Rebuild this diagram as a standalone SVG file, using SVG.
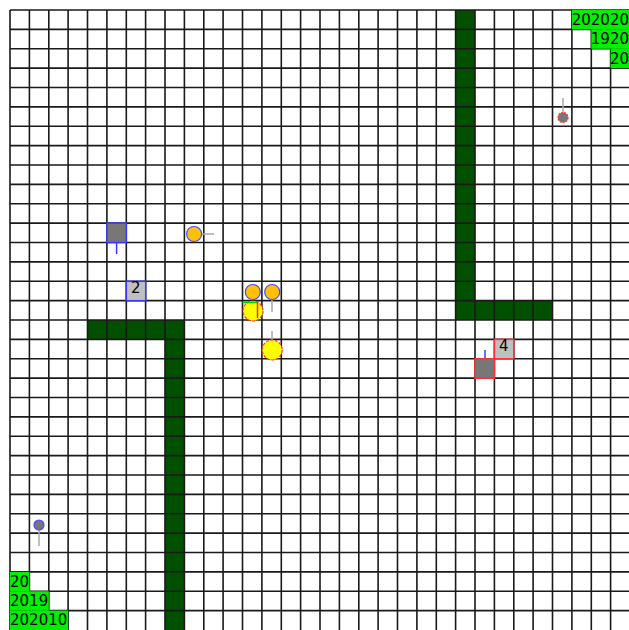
<svg xmlns="http://www.w3.org/2000/svg" width="629" height="630" viewBox="0 0 629 630">
<style>
.wall{fill:#005000}
.grid{fill:none;stroke:#1a1a1a;stroke-width:1.6}
.lab{fill:#00f000}
.t{font-family:"DejaVu Sans",sans-serif;font-size:15px;fill:#000}
.orange{fill:#ffc107;stroke:#4a4aff;stroke-width:1.2}
.gl{stroke:#aaa;stroke-width:1.5}
</style>
<rect width="629" height="630" fill="#fff"/>
<g id="walls">
<rect class="wall" x="455.6" y="10" width="19.4" height="310"/>
<rect class="wall" x="455.6" y="300.6" width="96.9" height="19.4"/>
<rect class="wall" x="87.5" y="320" width="96.9" height="19.4"/>
<rect class="wall" x="165" y="320" width="19.4" height="312"/>
</g>
<path class="grid" d="M10 10V630M29.4 10V630M48.8 10V630M68.1 10V630M87.5 10V630M106.9 10V630M126.3 10V630M145.6 10V630M165 10V630M184.4 10V630M203.8 10V630M223.1 10V630M242.5 10V630M261.9 10V630M281.3 10V630M300.6 10V630M320 10V630M339.4 10V630M358.8 10V630M378.1 10V630M397.5 10V630M416.9 10V630M436.3 10V630M455.6 10V630M475 10V630M494.4 10V630M513.8 10V630M533.1 10V630M552.5 10V630M571.9 10V630M591.3 10V630M610.6 10V630M10 10H630M10 29.4H630M10 48.8H630M10 68.1H630M10 87.5H630M10 106.9H630M10 126.3H630M10 145.6H630M10 165H630M10 184.4H630M10 203.8H630M10 223.1H630M10 242.5H630M10 261.9H630M10 281.3H630M10 300.6H630M10 320H630M10 339.4H630M10 358.8H630M10 378.1H630M10 397.5H630M10 416.9H630M10 436.3H630M10 455.6H630M10 475H630M10 494.4H630M10 513.8H630M10 533.1H630M10 552.5H630M10 571.9H630M10 591.3H630M10 610.6H630"/>
<g id="labels">
<rect class="lab" x="571.9" y="10" width="60" height="19.4"/>
<rect class="lab" x="591.3" y="29.4" width="40" height="19.4"/>
<rect class="lab" x="610.6" y="48.8" width="20" height="19.4"/>
<text class="t" x="629" y="25" text-anchor="end">202020</text>
<text class="t" x="629" y="44" text-anchor="end">1920</text>
<text class="t" x="629" y="64" text-anchor="end">20</text>
<rect class="lab" x="10" y="571.9" width="19.4" height="19.4"/>
<rect class="lab" x="10" y="591.3" width="38.8" height="19.4"/>
<rect class="lab" x="10" y="610.6" width="58.1" height="19.4"/>
<text class="t" x="10" y="587">20</text>
<text class="t" x="10" y="606">2019</text>
<text class="t" x="10" y="625">202010</text>
</g>
<g id="connectors">
<line class="gl" x1="563" y1="98" x2="563" y2="112"/>
<line x1="116.6" y1="242.5" x2="116.6" y2="254" stroke="#3a3aff" stroke-width="1.5"/>
<line class="gl" x1="201" y1="234" x2="214" y2="234"/>
<line class="gl" x1="272" y1="299" x2="272" y2="312"/>
<line class="gl" x1="272" y1="331" x2="272" y2="340"/>
<line x1="485" y1="350" x2="485" y2="358.7" stroke="#3a3aff" stroke-width="1.5"/>
<line class="gl" x1="39" y1="530" x2="39" y2="546"/>
</g>
<g id="n1"><circle cx="563" cy="117.5" r="5" fill="#777" stroke="#ff3333" stroke-width="1.2" stroke-dasharray="2,1"/></g>
<g id="n2"><rect x="106.9" y="223.1" width="19.4" height="19.4" fill="#777" stroke="#3a3aff" stroke-width="1.5"/></g>
<g id="n3"><circle class="orange" cx="194.1" cy="234" r="7.5"/></g>
<g id="n4"><rect x="126.3" y="281.3" width="19.4" height="19.4" fill="#c0c0c0" stroke="#3a3aff" stroke-width="1.5"/><text class="t" x="131" y="293">2</text></g>
<g id="n5"><circle class="orange" cx="252.8" cy="292" r="7.5"/></g>
<g id="n6"><circle class="orange" cx="272.2" cy="292" r="7.5"/></g>
<g id="n7"><circle cx="253" cy="311" r="10" fill="#ffff00" stroke="#ff3333" stroke-width="1.2" stroke-dasharray="3,1.5"/>
<line x1="242.5" y1="302.5" x2="257" y2="302.5" stroke="#00e000" stroke-width="1.5"/>
<line x1="257.5" y1="302" x2="257.5" y2="318" stroke="#ff2020" stroke-width="1.5"/></g>
<g id="n8"><circle cx="272.2" cy="350" r="10" fill="#ffff00" stroke="#ff3333" stroke-width="1.2" stroke-dasharray="3,1.5"/></g>
<g id="n9"><rect x="475" y="358.8" width="19.4" height="19.4" fill="#777" stroke="#ff3333" stroke-width="1.5"/></g>
<g id="n10"><rect x="494.4" y="339.4" width="19.4" height="19.4" fill="#c0c0c0" stroke="#ff3333" stroke-width="1.5"/><text class="t" x="499" y="351">4</text></g>
<g id="n11"><circle cx="39" cy="525" r="5" fill="#777" stroke="#4a4aff" stroke-width="1.2"/></g>
</svg>
